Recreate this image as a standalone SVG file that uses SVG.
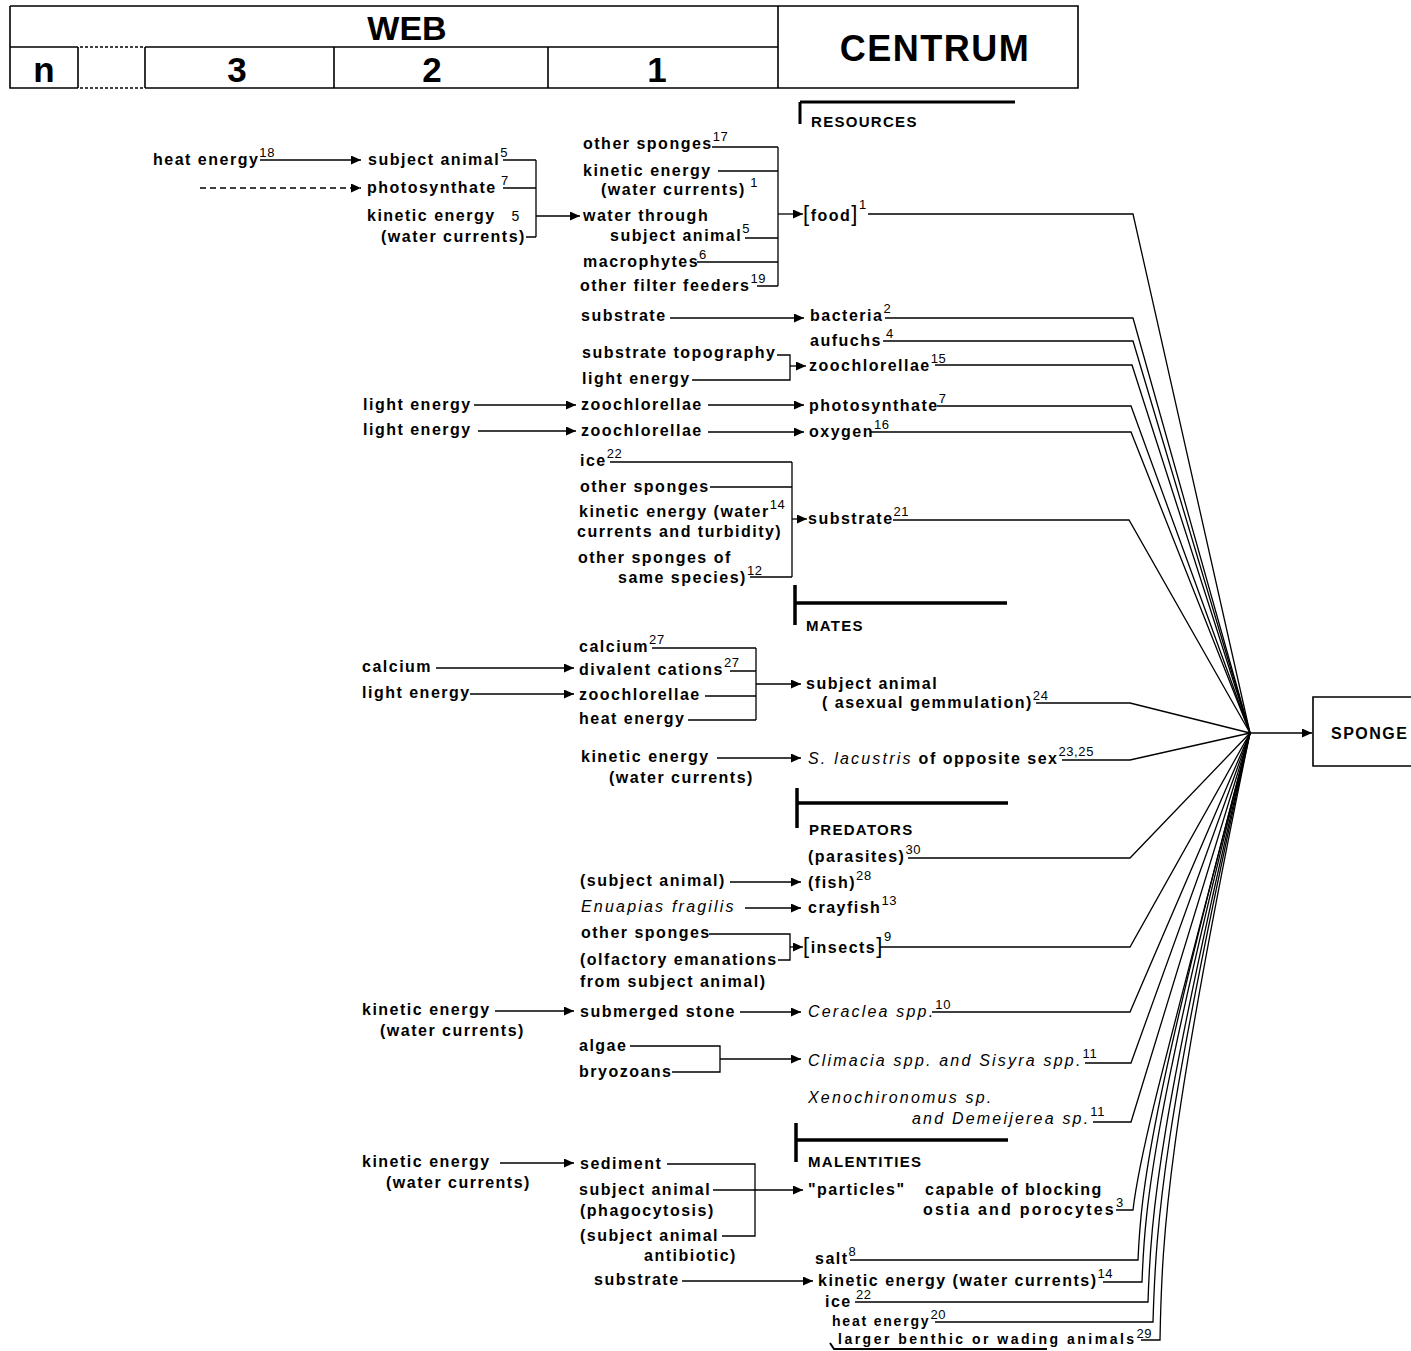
<svg xmlns="http://www.w3.org/2000/svg" width="1411" height="1351" viewBox="0 0 1411 1351">
<style>
  text { font-family: "Liberation Sans", Arial, sans-serif; fill: #000; }
  .t { font-size: 16px; font-weight: bold; letter-spacing: 1.5px; }
  .it { font-style: italic; font-weight: normal; letter-spacing: 2.2px; }
  .s { font-size: 13px; font-weight: normal; letter-spacing: 0.6px; font-style: normal; }
  .sec { font-size: 15px; font-weight: bold; letter-spacing: 1.3px; }
  .big { font-size: 35px; font-weight: bold; }
  .brk { font-size: 22px; font-weight: normal; }
  .ln { stroke: #000; stroke-width: 1.3; fill: none; }
  .ar { marker-end: url(#ah); }
  .dash { stroke-dasharray: 6 4; }
  .bar { stroke: #000; stroke-width: 3.5; fill: none; }
  .frame { stroke: #000; stroke-width: 1.6; fill: none; }
  .dot { stroke: #000; stroke-width: 1.4; stroke-dasharray: 3 2; fill: none; }
</style>
<defs>
  <marker id="ah" markerWidth="11" markerHeight="9" refX="10" refY="4.5" orient="auto" markerUnits="userSpaceOnUse">
    <path d="M0,0 L10,4.5 L0,9 z" fill="#000"/>
  </marker>
</defs>
<rect width="1411" height="1351" fill="#fff"/>

<!-- header table: WEB levels and CENTRUM -->
<g id="header">
  <path class="frame" d="M10,6 H1078 V88 H145 M78,88 H10 V6 M778,6 V88 M10,47 H78 M145,47 H778 M78,47 V88 M145,47 V88 M334,47 V88 M548,47 V88"/>
  <path class="dot" d="M80,47 H145 M80,88 H145"/>
  <text class="big" x="407" y="40" text-anchor="middle" style="font-size:34px">WEB</text>
  <text class="big" x="935" y="61" text-anchor="middle" style="font-size:36px;letter-spacing:1.5px">CENTRUM</text>
  <text class="big" x="44" y="82" text-anchor="middle">n</text>
  <text class="big" x="237" y="82" text-anchor="middle">3</text>
  <text class="big" x="432" y="82" text-anchor="middle">2</text>
  <text class="big" x="657" y="82" text-anchor="middle">1</text>
</g>

<!-- section headings in the centrum -->
<g id="sections">
  <path class="bar" d="M800,102 V124 M800,102 H1015" style="stroke-width:3"/>
  <text class="sec" x="811" y="127">RESOURCES</text>
  <path class="bar" d="M795,585 V625 M795,603 H1007"/>
  <text class="sec" x="806" y="631">MATES</text>
  <path class="bar" d="M797,788 V828 M797,803 H1008"/>
  <text class="sec" x="809" y="835">PREDATORS</text>
  <path class="bar" d="M796,1123 V1162 M796,1140 H1008"/>
  <text class="sec" x="808" y="1167">MALENTITIES</text>
  <path class="ln" d="M830,1343 L834,1349 H1047" style="stroke-width:2"/>
</g>

<!-- food block -->
<g id="n-heat18"><text class="t" x="153" y="165">heat energy<tspan class="s" dy="-8">18</tspan></text></g>
<g id="n-subj5"><text class="t" x="368" y="165">subject animal<tspan class="s" dy="-8">5</tspan></text></g>
<g id="n-photo7a"><text class="t" x="367" y="193">photosynthate<tspan class="s" dy="-8"> 7</tspan></text></g>
<g id="n-kin5"><text class="t" x="367" y="221">kinetic energy<tspan class="s" style="font-size:14px" dx="16">5</tspan></text><text class="t" x="381" y="242">(water currents)</text></g>
<g id="n-othsp17"><text class="t" x="583" y="149">other sponges<tspan class="s" dy="-8">17</tspan></text></g>
<g id="n-kin1"><text class="t" x="583" y="176">kinetic energy</text><text class="t" x="601" y="195">(water currents)<tspan class="s" dy="-8"> 1</tspan></text></g>
<g id="n-water5"><text class="t" x="583" y="221">water through</text><text class="t" x="610" y="241">subject animal<tspan class="s" dy="-8">5</tspan></text></g>
<g id="n-macro6"><text class="t" x="583" y="267">macrophytes<tspan class="s" dy="-8">6</tspan></text></g>
<g id="n-filter19"><text class="t" x="580" y="291">other filter feeders<tspan class="s" dy="-8">19</tspan></text></g>
<g id="n-food1"><text class="t" x="803" y="221"><tspan class="brk">[</tspan>food<tspan class="brk">]</tspan><tspan class="s" dy="-12">1</tspan></text></g>

<!-- bacteria, aufwuchs, zoochlorellae, photosynthate, oxygen -->
<g id="n-substr-a"><text class="t" x="581" y="321">substrate</text></g>
<g id="n-bact2"><text class="t" x="810" y="321">bacteria<tspan class="s" dy="-8">2</tspan></text></g>
<g id="n-aufuchs4"><text class="t" x="810" y="346">aufuchs<tspan class="s" dy="-8"> 4</tspan></text></g>
<g id="n-topo"><text class="t" x="582" y="358">substrate topography</text></g>
<g id="n-light-a"><text class="t" x="582" y="384">light energy</text></g>
<g id="n-zoo15"><text class="t" x="809" y="371">zoochlorellae<tspan class="s" dy="-8">15</tspan></text></g>
<g id="n-light-b"><text class="t" x="363" y="410">light energy</text></g>
<g id="n-zoo-b"><text class="t" x="581" y="410">zoochlorellae</text></g>
<g id="n-photo7b"><text class="t" x="809" y="411">photosynthate<tspan class="s" dy="-8">7</tspan></text></g>
<g id="n-light-c"><text class="t" x="363" y="435">light energy</text></g>
<g id="n-zoo-c"><text class="t" x="581" y="436">zoochlorellae</text></g>
<g id="n-oxy16"><text class="t" x="809" y="437">oxygen<tspan class="s" dy="-8">16</tspan></text></g>

<!-- substrate block -->
<g id="n-ice22a"><text class="t" x="580" y="466">ice<tspan class="s" dy="-8">22</tspan></text></g>
<g id="n-othsp-b"><text class="t" x="580" y="492">other sponges</text></g>
<g id="n-kin14a"><text class="t" x="579" y="517">kinetic energy (water<tspan class="s" dy="-8">14</tspan></text><text class="t" x="577" y="537">currents and turbidity)</text></g>
<g id="n-same12"><text class="t" x="578" y="563">other sponges of</text><text class="t" x="618" y="583">same species)<tspan class="s" dy="-8">12</tspan></text></g>
<g id="n-substr21"><text class="t" x="808" y="524">substrate<tspan class="s" dy="-8">21</tspan></text></g>

<!-- mates block -->
<g id="n-calc27"><text class="t" x="579" y="652">calcium<tspan class="s" dy="-8">27</tspan></text></g>
<g id="n-calc"><text class="t" x="362" y="672">calcium</text></g>
<g id="n-dival27"><text class="t" x="579" y="675">divalent cations<tspan class="s" dy="-8">27</tspan></text></g>
<g id="n-light-d"><text class="t" x="362" y="698">light energy</text></g>
<g id="n-zoo-d"><text class="t" x="579" y="700">zoochlorellae</text></g>
<g id="n-heat-b"><text class="t" x="579" y="724">heat energy</text></g>
<g id="n-gemm24"><text class="t" x="806" y="689">subject animal</text><text class="t" x="822" y="708">( asexual gemmulation)<tspan class="s" dy="-8">24</tspan></text></g>
<g id="n-kin-e"><text class="t" x="581" y="762">kinetic energy</text><text class="t" x="609" y="783">(water currents)</text></g>
<g id="n-lacustris"><text class="t" x="808" y="764"><tspan class="it">S. lacustris</tspan> of opposite sex<tspan class="s" dy="-8">23,25</tspan></text></g>

<!-- predators block -->
<g id="n-paras30"><text class="t" x="808" y="862">(parasites)<tspan class="s" dy="-8">30</tspan></text></g>
<g id="n-subj-paren"><text class="t" x="580" y="886">(subject animal)</text></g>
<g id="n-fish28"><text class="t" x="808" y="888">(fish)<tspan class="s" dy="-8">28</tspan></text></g>
<g id="n-enuapias"><text class="t it" x="581" y="912">Enuapias fragilis</text></g>
<g id="n-cray13"><text class="t" x="808" y="913">crayfish<tspan class="s" dy="-8">13</tspan></text></g>
<g id="n-othsp-c"><text class="t" x="581" y="938">other sponges</text></g>
<g id="n-olfact"><text class="t" x="580" y="965">(olfactory emanations</text><text class="t" x="580" y="987">from subject animal)</text></g>
<g id="n-insects9"><text class="t" x="803" y="953"><tspan class="brk">[</tspan>insects<tspan class="brk">]</tspan><tspan class="s" dy="-12">9</tspan></text></g>
<g id="n-kin-f"><text class="t" x="362" y="1015">kinetic energy</text><text class="t" x="380" y="1036">(water currents)</text></g>
<g id="n-stone"><text class="t" x="580" y="1017">submerged stone</text></g>
<g id="n-ceraclea10"><text class="t it" x="808" y="1017">Ceraclea spp.<tspan class="s" dy="-8">10</tspan></text></g>
<g id="n-algae"><text class="t" x="579" y="1051">algae</text></g>
<g id="n-bryo"><text class="t" x="579" y="1077">bryozoans</text></g>
<g id="n-climacia11"><text class="t it" x="808" y="1066">Climacia spp. and Sisyra spp.<tspan class="s" dy="-8">11</tspan></text></g>
<g id="n-xeno11"><text class="t it" x="808" y="1103">Xenochironomus sp.</text><text class="t it" x="912" y="1124">and Demeijerea sp.<tspan class="s" dy="-8">11</tspan></text></g>

<!-- malentities block -->
<g id="n-kin-g"><text class="t" x="362" y="1167">kinetic energy</text><text class="t" x="386" y="1188">(water currents)</text></g>
<g id="n-sediment"><text class="t" x="580" y="1169">sediment</text></g>
<g id="n-phago"><text class="t" x="579" y="1195">subject animal</text><text class="t" x="580" y="1216">(phagocytosis)</text></g>
<g id="n-antib"><text class="t" x="580" y="1241">(subject animal</text><text class="t" x="644" y="1261">antibiotic)</text></g>
<g id="n-partic3"><text class="t" x="808" y="1195">"particles"<tspan x="925">capable of blocking</tspan></text><text class="t" x="923" y="1215" style="letter-spacing:2.2px">ostia and porocytes<tspan class="s" dy="-8">3</tspan></text></g>
<g id="n-salt8"><text class="t" x="815" y="1264">salt<tspan class="s" dy="-8">8</tspan></text></g>
<g id="n-substr-h"><text class="t" x="594" y="1285">substrate</text></g>
<g id="n-kin14b"><text class="t" x="818" y="1286">kinetic energy (water currents)<tspan class="s" dy="-8">14</tspan></text></g>
<g id="n-ice22b"><text class="t" x="825" y="1307">ice<tspan class="s" dy="-8"> 22</tspan></text></g>
<g id="n-heat20"><text class="t" x="832" y="1326" style="font-size:14px;letter-spacing:1.8px">heat energy<tspan class="s" dy="-7">20</tspan></text></g>
<g id="n-larger29"><text class="t" x="838" y="1344" style="font-size:14px;letter-spacing:2.5px">larger benthic or wading animals<tspan class="s" dy="-6" style="letter-spacing:0.5px">29</tspan></text></g>

<!-- target -->
<g id="n-sponge">
  <path class="frame" d="M1420,697 H1313 V766 H1420"/>
  <text class="t" x="1331" y="739">SPONGE</text>
</g>

<g id="connectors">
  <!-- food block -->
  <path class="ln ar" d="M260,160 H361"/>
  <path class="ln ar dash" d="M200,188 H361"/>
  <path class="ln" d="M503,160 H536 M503,188 H536 M526,237 H536 M536,160 V237"/>
  <path class="ln ar" d="M536,216 H580"/>
  <path class="ln" d="M712,147 H778 M718,171 H778 M745,238 H778 M697,262 H778 M757,286 H778 M778,147 V286"/>
  <path class="ln ar" d="M778,214 H803"/>
  <!-- column 2 / 1 links -->
  <path class="ln ar" d="M670,318 H804"/>
  <path class="ln" d="M777,355 H790 V380 H692"/>
  <path class="ln ar" d="M790,366 H806"/>
  <path class="ln ar" d="M474,405 H576"/>
  <path class="ln ar" d="M708,405 H804"/>
  <path class="ln ar" d="M478,431 H576"/>
  <path class="ln ar" d="M708,432 H804"/>
  <path class="ln" d="M610,462 H792 M710,487 H792 M750,577 H792 M792,462 V577"/>
  <path class="ln ar" d="M792,519 H807"/>
  <path class="ln" d="M652,648 H756 M730,671 H756 M705,696 H756 M688,720 H756 M756,648 V720"/>
  <path class="ln ar" d="M436,668 H574"/>
  <path class="ln ar" d="M470,694 H574"/>
  <path class="ln ar" d="M756,684 H801"/>
  <path class="ln ar" d="M717,758 H801"/>
  <path class="ln ar" d="M730,882 H801"/>
  <path class="ln ar" d="M745,908 H801"/>
  <path class="ln" d="M709,934 H790 V960 H778"/>
  <path class="ln ar" d="M790,947 H803"/>
  <path class="ln ar" d="M495,1011 H574"/>
  <path class="ln ar" d="M740,1012 H801"/>
  <path class="ln" d="M630,1046 H720 V1072 H672"/>
  <path class="ln ar" d="M720,1059 H801"/>
  <path class="ln ar" d="M500,1163 H574"/>
  <path class="ln" d="M667,1164 H755 V1236 H722"/>
  <path class="ln ar" d="M713,1190 H803"/>
  <path class="ln ar" d="M682,1281 H813"/>
  <!-- convergence on the sponge -->
  <path class="ln" d="M868,214 H1133 L1250,733"/>
  <path class="ln" d="M885,318 H1133 L1250,733"/>
  <path class="ln" d="M883,341 H1133 L1250,733"/>
  <path class="ln" d="M935,365 H1132 L1250,733"/>
  <path class="ln" d="M937,406 H1131 L1250,733"/>
  <path class="ln" d="M870,432 H1131 L1250,733"/>
  <path class="ln" d="M893,520 H1129 L1250,733"/>
  <path class="ln" d="M1036,703 H1130 L1250,733"/>
  <path class="ln" d="M1062,760 H1130 L1250,733"/>
  <path class="ln" d="M908,858 H1130 L1250,733"/>
  <path class="ln" d="M880,947 H1130 L1250,733"/>
  <path class="ln" d="M932,1012 H1130 L1250,733"/>
  <path class="ln" d="M1085,1063 H1131 L1250,733"/>
  <path class="ln" d="M1093,1122 H1131 L1250,733"/>
  <path class="ln" d="M1116,1210 H1133 C1140,1150 1165,1060 1250,733"/>
  <path class="ln" d="M850,1260 H1138 C1141,1190 1150,1110 1250,733"/>
  <path class="ln" d="M1103,1282 H1142 C1145,1200 1154,1115 1250,733"/>
  <path class="ln" d="M855,1302 H1148 C1151,1210 1159,1120 1250,733"/>
  <path class="ln" d="M935,1322 H1153 C1156,1220 1163,1125 1250,733"/>
  <path class="ln" d="M1141,1340 H1160 C1162,1230 1168,1130 1250,733"/>
  <path class="ln ar" d="M1250,733 H1312"/>
</g>
</svg>
